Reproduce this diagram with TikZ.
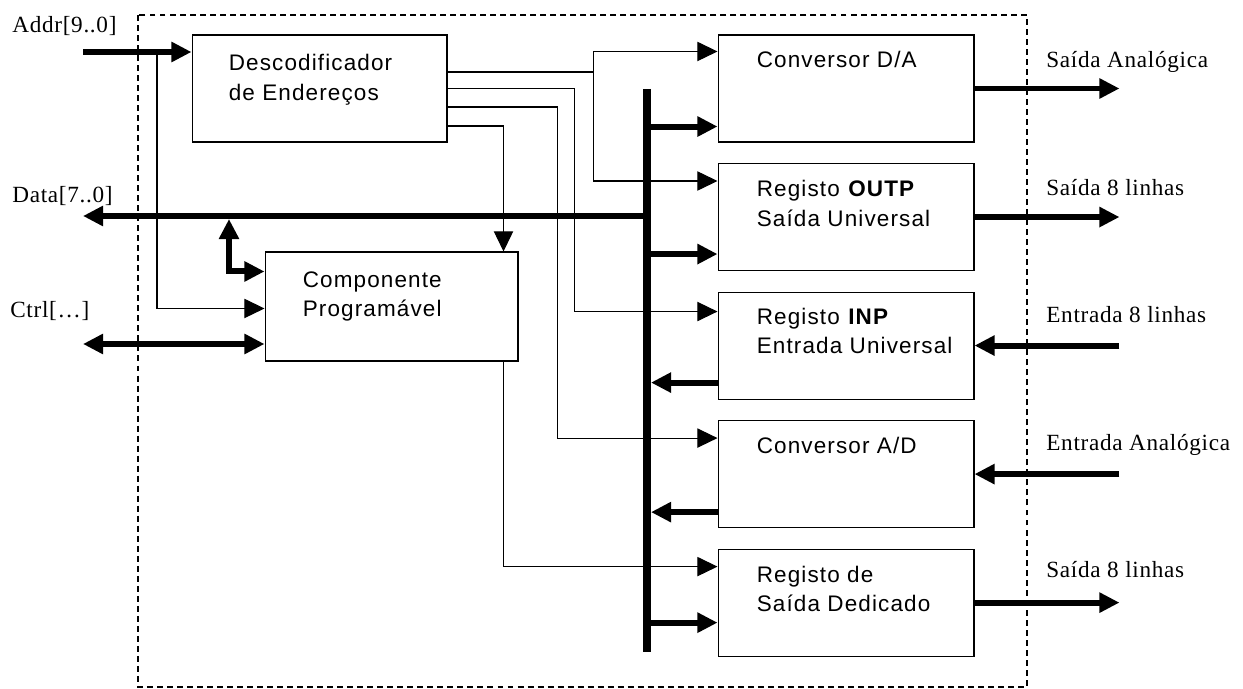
\documentclass[tikz,border=0pt]{standalone}
\usepackage{fontspec}
\setmainfont{Liberation Serif}
\newfontfamily\blockfont[LetterSpace=5]{Liberation Sans}
\newfontfamily\pinfont[LetterSpace=3]{Liberation Serif}
\usetikzlibrary{arrows.meta,positioning}

\begin{document}
\begin{tikzpicture}[x=0.02cm, y=-0.02cm, >={Triangle[length=11.5pt,width=11pt]},
    block/.style={rectangle, draw, line width=0.6pt, minimum width=5.12cm, minimum height=2.14cm, inner sep=0pt},
    blocktext/.style={inner sep=0pt, align=left, font=\blockfont\fontsize{12.8}{16.8}\selectfont},
    iolabel/.style={inner sep=0pt, anchor=base west, font=\pinfont\fontsize{13.2}{15}\selectfont},
    wire/.style={line width=0.6pt},
    busline/.style={line width=3.4pt},
    modframe/.style={line width=0.6pt, dash pattern=on 3.4pt off 2.3pt}]

    \useasboundingbox (0,0) rectangle (1243,689);
    \draw[modframe] (138,15) rectangle (1027,687);

    % address decoder and programmable part
    \node[block, minimum width=5.1cm] (dec) at (319.5,88.5) {};
    \node[blocktext, below right=0.39cm and 0.74cm of dec.north west] (dectext) {Descodificador\\de Endereços};
    \node[block, minimum width=5.06cm, minimum height=2.18cm] (prog) at (391.5,306.5) {};
    \node[blocktext, below right=0.39cm and 0.76cm of prog.north west] (progtext) {Componente\\Programável};

    % peripheral blocks
    \node[block] (dac) at (846,88.5) {};
    \node[block, below=0.41cm of dac] (outp) {};
    \node[block, below=0.41cm of outp] (inp) {};
    \node[block, below=0.41cm of inp] (adc) {};
    \node[block, below=0.41cm of adc] (ded) {};
    \node[blocktext, below right=0.32cm and 0.78cm of dac.north west] (dactext) {Conversor D/A};
    \node[blocktext, below right=0.34cm and 0.78cm of outp.north west] (outptext) {Registo \textbf{OUTP}\\Saída Universal};
    \node[blocktext, below right=0.32cm and 0.78cm of inp.north west] (inptext) {Registo \textbf{INP}\\Entrada Universal};
    \node[blocktext, below right=0.33cm and 0.78cm of adc.north west] (adctext) {Conversor A/D};
    \node[blocktext, below right=0.34cm and 0.78cm of ded.north west] (dedtext) {Registo de\\Saída Dedicado};

    % pin names
    \node[iolabel] (addrname) at (12,33) {Addr[9..0]};
    \node[iolabel] (dataname) at (12,203) {Data[7..0]};
    \node[iolabel] (ctrlname) at (10,317) {Ctrl[\ldots]};
    \node[iolabel] (dacname) at (1046,68) {Saída Analógica};
    \node[iolabel] (outpname) at (1046,195) {Saída 8 linhas};
    \node[iolabel] (inpname) at (1046,322) {Entrada 8 linhas};
    \node[iolabel] (adcname) at (1046,450) {Entrada Analógica};
    \node[iolabel] (dedname) at (1046,577) {Saída 8 linhas};

    \coordinate (addrend) at (83,52);
    \coordinate (addrtap) at (157,52);
    \coordinate (dataend) at (83,216);
    \coordinate (datatap) at (229,219);
    \coordinate (ctrlend) at (83,344);
    \coordinate (bustop) at (647,89);
    \coordinate (busbot) at (647,652);
    \coordinate (busedge) at (651,89);

    % internal data bus
    \draw[line width=4pt] (bustop) -- (busbot);
    \draw[busline,->] (bustop |- dataend) -- (dataend);
    \draw[busline,<->] (datatap) |- ([yshift=-0.4cm]prog.north west);
    \draw[busline,->] (addrend) -- (dec.west |- addrend);
    \draw[wire,->] (addrtap) |- ([yshift=-1.14cm]prog.north west);
    \draw[busline,<->] (ctrlend) -- (prog.west |- ctrlend);

    % chip selects
    \draw[wire] ([yshift=0.33cm]dec.east) -- ++(146,0) coordinate (sel);
    \draw[wire,->] (sel) |- ([yshift=-0.34cm]dac.north west);
    \draw[wire,->] (sel) |- ([yshift=-0.36cm]outp.north west);
    \draw[wire,->] (dec.east) -- ++(127,0) |- ([yshift=-0.4cm]inp.north west);
    \draw[wire,->] ([yshift=-0.37cm]dec.east) -- ++(110,0) |- ([yshift=-0.36cm]adc.north west);
    \draw[wire,->] ([yshift=-0.75cm]dec.east) -| ([xshift=-0.3cm]prog.north east);
    \draw[wire,->] ([xshift=-0.3cm]prog.south east) |- ([yshift=-0.36cm]ded.north west);

    % bus taps
    \coordinate (dacbus) at ([yshift=0.32cm]dac.south west);
    \coordinate (outpbus) at ([yshift=0.34cm]outp.south west);
    \coordinate (inpbus) at ([yshift=0.34cm]inp.south west);
    \coordinate (adcbus) at ([yshift=0.32cm]adc.south west);
    \coordinate (dedbus) at ([yshift=0.68cm]ded.south west);
    \draw[busline,->] (bustop |- dacbus) -- (dacbus);
    \draw[busline,->] (bustop |- outpbus) -- (outpbus);
    \draw[busline,->] (inpbus) -- (busedge |- inpbus);
    \draw[busline,->] (adcbus) -- (busedge |- adcbus);
    \draw[busline,->] (bustop |- dedbus) -- (dedbus);

    % outside world
    \coordinate (dacout) at ([xshift=2.9cm]dac.east);
    \coordinate (outpout) at ([xshift=2.9cm]outp.east);
    \coordinate (inpin) at ([xshift=2.9cm]inp.east);
    \coordinate (adcin) at ([xshift=2.9cm]adc.east);
    \coordinate (dedout) at ([xshift=2.9cm]ded.east);
    \draw[busline,->] (dac.east) -- (dacout);
    \draw[busline,->] (outp.east) -- (outpout);
    \draw[busline,->] (inpin) -- (inp.east);
    \draw[busline,->] (adcin) -- (adc.east);
    \draw[busline,->] (ded.east) -- (dedout);
\end{tikzpicture}
\end{document}
